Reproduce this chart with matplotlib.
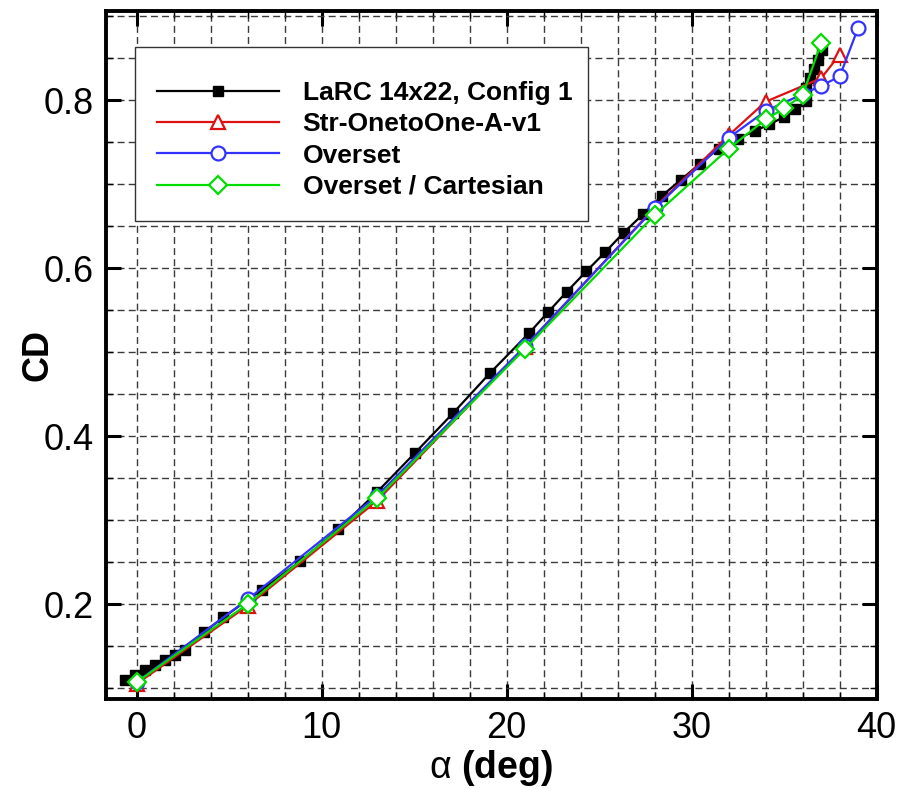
import matplotlib
matplotlib.use("Agg")
import matplotlib.pyplot as plt
from matplotlib.ticker import MultipleLocator, FormatStrFormatter

# ---- data ----
alpha_exp = [-0.63, -0.09, 0.45, 0.99, 1.53, 2.07, 2.60, 3.65, 4.68, 6.76, 8.85,
             10.9, 12.98, 15.05, 17.09, 19.1, 21.23, 22.26, 23.26, 24.3, 25.33,
             26.32, 27.37, 28.39, 29.42, 30.43, 31.45, 32.5, 33.4, 34.2, 35.0,
             35.6, 36.2, 36.2, 36.4, 36.6, 36.85, 37.05]
cd_exp = [0.110, 0.116, 0.121, 0.127, 0.133, 0.139, 0.145, 0.167, 0.184, 0.217,
          0.251, 0.289, 0.333, 0.380, 0.427, 0.475, 0.523, 0.548, 0.572, 0.596,
          0.619, 0.642, 0.664, 0.686, 0.705, 0.724, 0.742, 0.754, 0.763, 0.771,
          0.780, 0.789, 0.799, 0.814, 0.826, 0.837, 0.848, 0.860]

alpha_str = [0, 6, 13, 21, 28, 32, 34, 37, 38]
cd_str = [0.105, 0.198, 0.323, 0.506, 0.672, 0.758, 0.798, 0.826, 0.854]

alpha_ov = [0, 6, 13, 21, 28, 32, 34, 36, 37, 38, 39]
cd_ov = [0.107, 0.2056, 0.329, 0.507, 0.671, 0.755, 0.787, 0.807, 0.817, 0.828, 0.886]

alpha_oc = [0, 6, 13, 21, 28, 32, 34, 35, 36, 37]
cd_oc = [0.107, 0.200, 0.326, 0.504, 0.663, 0.742, 0.777, 0.790, 0.806, 0.868]

labels = ["LaRC 14x22, Config 1", "Str-OnetoOne-A-v1", "Overset", "Overset / Cartesian"]
xticks = [0, 10, 20, 30, 40]
yticks = [0.2, 0.4, 0.6, 0.8]

# ---- style ----
plt.rcParams['font.family'] = ['Liberation Sans', 'DejaVu Sans']
plt.rcParams['mathtext.fontset'] = 'custom'
plt.rcParams['mathtext.rm'] = 'Liberation Sans'
plt.rcParams['mathtext.bf'] = 'Liberation Sans:bold'
plt.rcParams['mathtext.it'] = 'Liberation Sans:italic'

fig = plt.figure(figsize=(9.05, 7.89), dpi=100)
ax = fig.add_axes([0.1171, 0.1141, 0.8516, 0.8720])

lw = 1.6
ax.plot(alpha_exp, cd_exp, color='black', lw=lw, marker='s', ms=7.5,
        mfc='black', mec='black', label=labels[0], zorder=3)
ax.plot(alpha_str, cd_str, color='#dd1111', lw=lw, marker='^', ms=10,
        mfc='white', mec='#dd1111', mew=1.6, label=labels[1], zorder=4)
ax.plot(alpha_ov, cd_ov, color='#3333ff', lw=lw, marker='o', ms=10,
        mfc='white', mec='#3333ff', mew=1.6, label=labels[2], zorder=5)
ax.plot(alpha_oc, cd_oc, color='#00dd00', lw=lw, marker='D', ms=9,
        mfc='white', mec='#00dd00', mew=1.6, label=labels[3], zorder=6)

ax.set_xlim(-1.66, 40)
ax.set_ylim(0.087, 0.906)
ax.set_xticks(xticks)
ax.set_yticks(yticks)
ax.xaxis.set_minor_locator(MultipleLocator(2))
ax.yaxis.set_minor_locator(MultipleLocator(0.05))
ax.yaxis.set_major_formatter(FormatStrFormatter('%.1f'))

ax.grid(True, which='both', color='#3a3a3a', linestyle=(0, (5, 3)), lw=1.0, zorder=0)
ax.set_axisbelow(True)

for s in ax.spines.values():
    s.set_linewidth(2.8)
ax.tick_params(which='both', direction='in', top=True, right=True)
ax.tick_params(which='major', length=11, width=2.2, labelsize=26, pad=9)
ax.tick_params(which='minor', length=5, width=1.0)

ax.set_ylabel('CD', fontsize=26, fontweight='bold')
ax.yaxis.set_label_coords(-0.066, 0.5)
ax.set_xlabel(r'$\mathrm{\alpha}$ $\mathbf{(deg)}$', fontsize=27)
ax.xaxis.set_label_coords(0.5, -0.071)

leg = ax.legend(loc='upper left', bbox_to_anchor=(0.0376, 0.699, 0.5878, 0.2487),
                mode='expand', prop={'weight': 'bold', 'size': 19},
                title=' ', title_fontsize=2,
                numpoints=1, handlelength=4.6, handletextpad=0.9, borderpad=0.85,
                labelspacing=0.28, fancybox=False, framealpha=1, edgecolor='#333333',
                borderaxespad=0)
leg.get_frame().set_linewidth(1.0)
leg.set_zorder(10)

fig.savefig('out.png', dpi=100)
